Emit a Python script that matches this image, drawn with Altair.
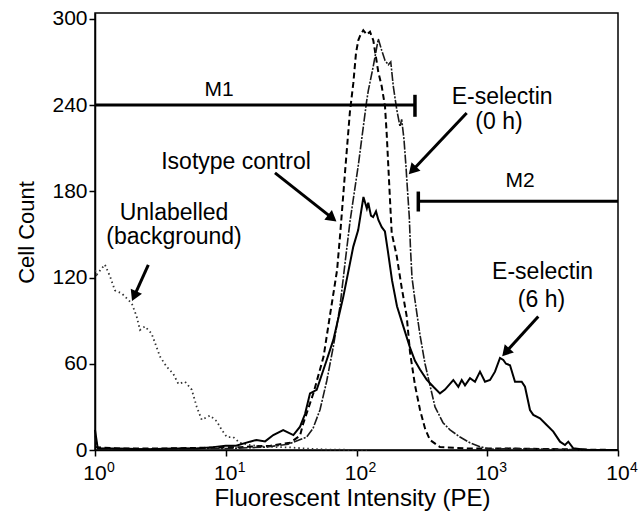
import altair as alt
import pandas as pd

FONT = "Liberation Sans"

# ---------------- data ----------------
# Unlabelled (background) - dotted
unl_x = [1.0, 1.03, 1.19, 1.30, 1.42, 1.60, 1.91, 2.08, 2.21, 2.41, 2.71, 3.14, 3.53, 3.97,
         4.34, 4.88, 5.49, 6.00, 6.55, 7.58, 8.53, 9.31, 10.2, 11.4, 12.8, 15.3, 19.3, 31,
         41.6, 60, 120]
unl_y = [125, 122, 129, 121, 111, 109, 102, 93, 83.5, 86, 81, 65, 58, 53,
         46, 47.5, 42, 30, 21, 24, 20, 14, 9, 9, 5, 3.5, 2.3, 1.8,
         1, 0.3, 0]

# Isotype control - dashed
iso_x = [1.0, 1.5, 3.1, 6.4, 13, 22, 31, 37, 39, 47, 56, 63, 71, 75, 82, 89, 94.5, 99.1,
         103.2, 106.4, 112.7, 119.7, 126.8, 134.4, 146.8, 155.9, 165.2, 170.2, 175.2, 180.4,
         185.9, 203, 221.6, 242.1, 256.6, 280.2, 306, 334.2, 364.8, 435.1, 738, 1500, 10000]
iso_y = [2, 1, 1, 1.5, 2, 3, 5, 10, 18, 40, 65, 95, 125, 150, 195, 235, 255, 276,
         285, 288, 292, 289, 291, 285, 263, 253, 239, 220, 197, 174,
         151, 135, 113, 93, 68, 45, 28, 15, 7, 2, 1, 1, 0]

# E-selectin (0 h)
e0_x = [1.0, 1.05, 2, 5, 10, 20, 30, 41.6, 46.5, 52.6, 59.2, 66.5, 74.8, 81.7, 89.2, 103.2,
        119.7, 123.1, 134.4, 146.8, 155.9, 165.2, 175.2, 182.8, 191.2, 203.0, 215.1, 221.6,
        230.8, 239.1, 244.6, 253.4, 258.8, 265.7, 280.2, 306, 334.2, 364.8, 398.5, 458.7,
        519, 619, 738, 880, 1050, 1500, 3000, 10000]
e0_y = [10, 1, 0.5, 1, 1, 2, 4, 9, 15, 28, 48, 72, 100, 130, 159, 198,
        243, 250, 267, 286, 278, 271, 268, 270, 253, 237, 225, 230,
        216, 197, 183, 162, 140, 120, 104, 80, 60, 45, 30, 19,
        14, 9, 5, 2.3, 0.5, 1, 0.5, 0]

# E-selectin (6 h)
e6_x = [1.0, 1.05, 1.5, 2.5, 4, 6, 8, 10, 12, 15.3, 17.2, 20, 23.1, 27.5, 32.9, 37.0, 40.4,
        44.1, 49.6, 59.2, 66.5, 79.3, 94.5, 103, 113, 120, 123, 129, 134, 141, 147, 156,
        165, 174, 187, 204, 228, 257, 280, 306, 344, 387, 435, 475, 550, 601, 638, 676,
        738, 806, 880, 961, 1050, 1146, 1252, 1327, 1391, 1493, 1630, 1834, 1944, 2123,
        2250, 2532, 2849, 3201, 3601, 3932, 4168, 4550, 5762, 10000]
e6_y = [14, 1, 1, 0.5, 1, 1, 2, 3, 3, 5.8, 7, 6, 10.4, 13.9, 10.4, 16.2, 25,
        39.4, 41.8, 62.6, 76.6, 106.7, 141.5, 153, 176, 168, 172, 163, 162, 166, 160, 155,
        152, 138, 118, 100, 86, 71, 62, 56, 49, 44, 39.4, 42, 48.7, 44, 48.7, 45,
        50, 47.5, 54.5, 47.5, 48.7, 54.5, 64, 62.6, 60, 59, 47.5, 47.5, 44, 27.8,
        24.4, 22, 17.4, 12.8, 5.8, 3.5, 5.8, 1.2, 0, 0]

# Markers M1 / M2
marker_names = ["M1", "M2"]
marker_x1 = [1, 297]
marker_x2 = [280, 10000]
marker_y = [240, 173]
marker_cap_x = [280, 297]
marker_cap_lo = [231.8, 165.9]
marker_cap_hi = [247.1, 179.8]
marker_label_x = [8.88, 1781]
marker_label_y = [250.6, 186.8]

# Text annotations
ann_text = ["Unlabelled", "(background)", "Isotype control", "E-selectin", "(0 h)",
            "E-selectin", "(6 h)"]
ann_x = [4.02, 4.02, 11.98, 1300, 1230, 2650, 2600]
ann_y = [165, 148.3, 200.5, 245.7, 228.3, 124.1, 104.4]

# Arrows (tail -> head)
arr_x = [2.557, 23.8, 696.3, 2457]
arr_y = [128.8, 192.8, 234.4, 92.8]
arr_hx = [1.994, 65.3, 267.6, 1385]
arr_hy = [107.1, 161.3, 194.5, 68.0]
arr_ang = [204, 128, 223, 222]

decades = [1, 10, 100, 1000, 10000]
exponents = ["0", "1", "2", "3", "4"]
y_ticks = [0, 60, 120, 180, 240, 300]

# ---------------- chart ----------------
xs = alt.Scale(type="log", domain=[1, 10000])
ys = alt.Scale(domain=[0, 304])

x_axis = alt.Axis(values=decades, labels=False, tickSize=6, tickWidth=1.5, tickColor="black",
                  domainColor="black", domainWidth=1.5, grid=False,
                  title="Fluorescent Intensity (PE)", titleFont=FONT, titleFontSize=24,
                  titleFontWeight="normal", titleColor="black", titleBaseline="alphabetic",
                  titleY=55, titleX=257)
y_axis = alt.Axis(values=y_ticks, tickSize=6, tickWidth=1.5, tickColor="black",
                  domainColor="black", domainWidth=1.5, grid=False,
                  labelFont=FONT, labelFontSize=21, labelColor="black", labelPadding=2,
                  title="Cell Count", titleFont=FONT, titleFontSize=22,
                  titleFontWeight="normal", titleColor="black", titleAngle=-90,
                  titleBaseline="middle", titleAlign="center", titleX=-69, titleY=219)


def line_layer(xv, yv, name, dash, width, color="black"):
    df = pd.DataFrame({"x": xv, "y": yv, "series": name})
    kw = dict(color=color, strokeWidth=width, interpolate="linear")
    if dash:
        kw["strokeDash"] = dash
    return alt.Chart(df).mark_line(**kw).encode(
        x=alt.X("x:Q", scale=xs, axis=x_axis),
        y=alt.Y("y:Q", scale=ys, axis=y_axis),
    )


l_unl = line_layer(unl_x, unl_y, "Unlabelled", [1.5, 3], 1.8, "#333")
l_iso = line_layer(iso_x, iso_y, "Isotype", [6, 3.5], 2.0)
l_e0 = line_layer(e0_x, e0_y, "E0", [9, 1.5, 2, 1.5], 1.6, "#1a1a1a")
l_e6 = line_layer(e6_x, e6_y, "E6", None, 2.0)

mk = pd.DataFrame({"name": marker_names, "x1": marker_x1, "x2": marker_x2, "y": marker_y,
                   "cx": marker_cap_x, "lo": marker_cap_lo, "hi": marker_cap_hi,
                   "lx": marker_label_x, "ly": marker_label_y})
m_lines = alt.Chart(mk).mark_rule(color="black", strokeWidth=3).encode(
    x=alt.X("x1:Q", scale=xs), x2="x2:Q", y=alt.Y("y:Q", scale=ys))
m_caps = alt.Chart(mk).mark_rule(color="black", strokeWidth=3.5).encode(
    x=alt.X("cx:Q", scale=xs), y=alt.Y("lo:Q", scale=ys), y2="hi:Q")
m_text = alt.Chart(mk).mark_text(font=FONT, fontSize=21, color="black", align="center",
                                 baseline="middle").encode(
    x=alt.X("lx:Q", scale=xs), y=alt.Y("ly:Q", scale=ys), text="name:N")

an = pd.DataFrame({"t": ann_text, "x": ann_x, "y": ann_y})
a_text = alt.Chart(an).mark_text(font=FONT, fontSize=23, color="black", align="center",
                                 baseline="middle").encode(
    x=alt.X("x:Q", scale=xs), y=alt.Y("y:Q", scale=ys), text="t:N")

ar = pd.DataFrame({"x": arr_x, "y": arr_y, "hx": arr_hx, "hy": arr_hy, "ang": arr_ang})
a_shaft = alt.Chart(ar).mark_rule(color="black", strokeWidth=3).encode(
    x=alt.X("x:Q", scale=xs), y=alt.Y("y:Q", scale=ys), x2="hx:Q", y2="hy:Q")
a_head = alt.Chart(ar).mark_point(shape="triangle-up", filled=True, size=150, color="black",
                                  opacity=1).encode(
    x=alt.X("hx:Q", scale=xs), y=alt.Y("hy:Q", scale=ys),
    angle=alt.Angle("ang:Q", scale=None))

dl = pd.DataFrame({"x": decades, "y": [0] * 5, "e": exponents, "b": ["10"] * 5})
base_lbl = alt.Chart(dl).mark_text(font=FONT, fontSize=21, color="black", align="center",
                                   baseline="alphabetic", dy=30).encode(
    x=alt.X("x:Q", scale=xs), y=alt.Y("y:Q", scale=ys), text="b:N")
exp_lbl = alt.Chart(dl).mark_text(font=FONT, fontSize=14, color="black", align="left",
                                  baseline="alphabetic", dx=12, dy=22).encode(
    x=alt.X("x:Q", scale=xs), y=alt.Y("y:Q", scale=ys), text="e:N")

chart = alt.layer(
    l_unl, l_iso, l_e0, l_e6, m_lines, m_caps, m_text, a_text, a_shaft, a_head,
    base_lbl, exp_lbl
).properties(
    width=523, height=437,
    padding={"left": 95, "top": 13, "right": 23, "bottom": 65},
    autosize=alt.AutoSizeParams(type="none"),
    background="white",
).configure_view(stroke="black", strokeWidth=1.5).configure_axis(grid=False)

chart.save("out.html", embed_options={"renderer": "svg", "actions": False})
